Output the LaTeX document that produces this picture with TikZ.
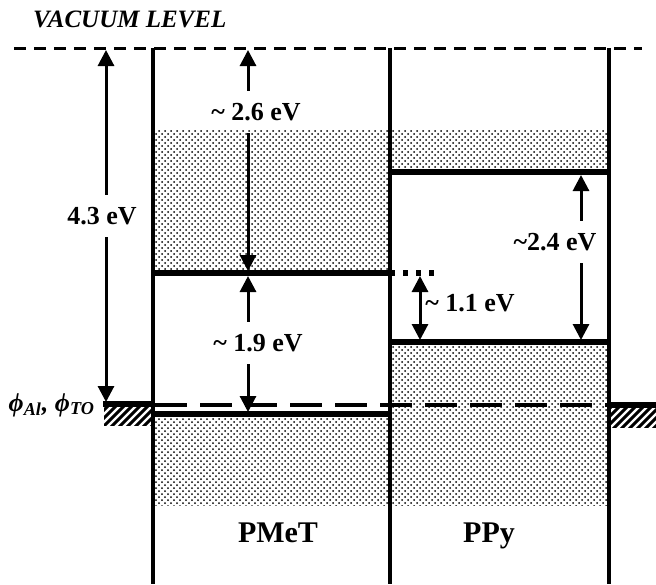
\documentclass[tikz,border=0pt]{standalone}
\usepackage{fontspec}
\setmainfont{Liberation Serif}
\usetikzlibrary{arrows.meta,positioning,patterns}

\begin{document}
\begin{tikzpicture}[
        x=0.5pt, y=-0.5pt,
        font=\fontsize{13}{15}\selectfont\bfseries,
        >={Triangle[length=8pt,width=8pt]},
        every node/.style={align=center},
        wall/.style={line width=2.2pt},
        level/.style={line width=2.8pt},
        vacline/.style={line width=1.5pt, dash pattern=on 6pt off 4pt},
        fermiline/.style={line width=1.6pt, dash pattern=on 16pt off 6.5pt},
        band/.style={pattern=crosshatch dots, pattern color=black},
        metal/.style={line width=3pt},
        hatch/.style={line width=1.5pt},
        arr/.style={->, line width=1.5pt},
        gaplabel/.style={inner xsep=1pt, inner ysep=6pt},
        namelabel/.style={font=\fontsize{15}{18}\selectfont\bfseries, anchor=base},
    ]
    \useasboundingbox (0,0) rectangle (656,584);

    \fill[band] (153,130) rectangle (390,273);
    \fill[band] (390,130) rectangle (609,172);
    \fill[band] (153,414) rectangle (390,505);
    \fill[band] (390,342) rectangle (609,505);

    \draw[vacline] (14,48) -- (642,48);
    \draw[fermiline] (155,405) -- (609,405);

    \draw[level] (153,273) -- (390,273);
    \draw[level, dash pattern=on 2.5pt off 4pt] (390,273) -- (440,273);
    \draw[level] (153,414) -- (390,414);
    \draw[level] (390,172) -- (609,172);
    \draw[level] (390,342) -- (609,342);

    \draw[wall] (153,48) -- (153,584);
    \draw[wall] (390,48) -- (390,584);
    \draw[wall] (609,48) -- (609,584);

    \draw[metal] (103,404) -- (153,404);
    \draw[metal] (609,405) -- (656,405);
    \begin{scope}
        \clip (104,406) rectangle (151,425);
        \foreach \h in {60,68,...,170}
            \draw[hatch] (\h,430) -- ++(26,-26);
    \end{scope}
    \begin{scope}
        \clip (611,407) rectangle (656,427);
        \foreach \h in {580,588,...,680}
            \draw[hatch] (\h,430) -- ++(26,-26);
    \end{scope}

    \node[anchor=base west, font=\fontsize{12.5}{15}\selectfont\bfseries\itshape] (vac) at (26,27) {VACUUM LEVEL};
    \node[anchor=base east, font=\fontsize{13}{15}\selectfont\bfseries\itshape] (phi) at (102,411)
        {ϕ\textsubscript{Al}, ϕ\textsubscript{TO}};

    \coordinate (vacA) at (106,50);
    \coordinate (metA) at (106,402);
    \coordinate (vacB) at (248,50);
    \coordinate (lumoB) at (248,271);
    \coordinate (lumoC) at (248,276);
    \coordinate (homoC) at (248,412);
    \coordinate (lumoD) at (420,276);
    \coordinate (homoD) at (420,340);
    \coordinate (lumoE) at (581,175);
    \coordinate (homoE) at (581,340);

    \node[gaplabel] (g43) at (102,216) {4.3 eV};
    \node[gaplabel] (g26) at (256,112) {\textasciitilde\ 2.6 eV};
    \node[gaplabel] (g19) at (258,343) {\textasciitilde\ 1.9 eV};
    \node[gaplabel, anchor=west] (g11) at (423,303) {\textasciitilde\ 1.1 eV};
    \node[gaplabel] (g24) at (555,242) {\textasciitilde2.4 eV};

    \draw[arr] (g43.north -| vacA) -- (vacA);
    \draw[arr] (g43.south -| metA) -- (metA);
    \draw[arr] (g26.north -| vacB) -- (vacB);
    \draw[arr] (g26.south -| lumoB) -- (lumoB);
    \draw[arr] (g19.north -| lumoC) -- (lumoC);
    \draw[arr] (g19.south -| homoC) -- (homoC);
    \draw[arr, <->] (lumoD) -- (homoD);
    \draw[arr] (g24.north -| lumoE) -- (lumoE);
    \draw[arr] (g24.south -| homoE) -- (homoE);

    \node[namelabel] (pmet) at (278,542) {PMeT};
    \node[namelabel] (ppy) at (489,542) {PPy};

\end{tikzpicture}
\end{document}
